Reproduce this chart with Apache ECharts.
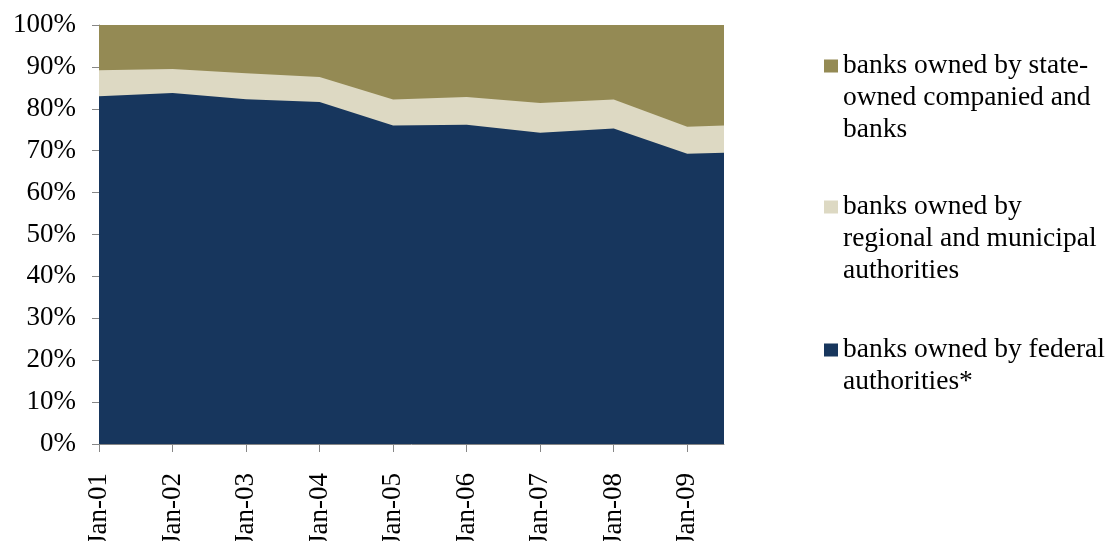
<!DOCTYPE html>
<html>
<head>
<meta charset="utf-8">
<script src="https://cdn.jsdelivr.net/npm/echarts@6/dist/echarts.min.js"></script>
<style>
  html, body { margin: 0; padding: 0; background: #fff; }
  #main { width: 1113px; height: 541px; }
</style>
</head>
<body>
<div id="main"></div>
<script>
// months since Jan-01 for each data point (last point is mid 2009)
const months = [0, 12, 24, 36, 48, 60, 72, 84, 96, 102]
const xTickValues = [0, 12, 24, 36, 48, 60, 72, 84, 96]
const xTickLabels = ['Jan-01', 'Jan-02', 'Jan-03', 'Jan-04', 'Jan-05', 'Jan-06', 'Jan-07', 'Jan-08', 'Jan-09']

// shares in %
const federal = [83.0, 83.8, 82.3, 81.6, 76.0, 76.2, 74.3, 75.3, 69.3, 69.5]
const regional = [6.2, 5.7, 6.2, 6.0, 6.2, 6.6, 7.1, 6.9, 6.4, 6.5]
const stateOwned = [10.8, 10.5, 11.5, 12.4, 17.8, 17.2, 18.6, 17.8, 24.3, 24.0]

const names = {
  federal: 'banks owned by federal authorities*',
  regional: 'banks owned by regional and municipal authorities',
  state: 'banks owned by state-owned companied and banks'
}
const wrapped = {
  [names.state]: 'banks owned by state-\nowned companied and\nbanks',
  [names.regional]: 'banks owned by\nregional and municipal\nauthorities',
  [names.federal]: 'banks owned by federal\nauthorities*'
}
const colors = {
  federal: '#17365D',
  regional: '#DDD9C3',
  state: '#948A54'
}

const font = 'Liberation Serif, Times New Roman, serif'
const lineH = 32

const chartDom = document.getElementById('main')
const myChart = echarts.init(chartDom)

// echarts stacks on the x dimension when both axes are value axes,
// so the stack is summed here and the layers are drawn back to front
const layers = [federal, regional, stateOwned]
const cumulative = layers.map((_, k) =>
  months.map((m, i) => {
    let s = 0
    for (let j = 0; j <= k; j++) s += layers[j][i]
    return [m, +s.toFixed(2)]
  })
)

function makeSeries(name, data, color) {
  return {
    name: name,
    type: 'line',
    data: data,
    showSymbol: false,
    symbol: 'none',
    lineStyle: { width: 0 },
    areaStyle: { color: color, opacity: 1 },
    itemStyle: { color: color },
    emphasis: { disabled: true }
  }
}

// square icon at top of a tall invisible box so it lines up with the first text line
function iconFor(lines) {
  const h = 13 + (lines - 1) * lineH
  return 'path://M0,0H14V13H0Z M0,' + h + 'L0.01,' + h
}

function makeLegend(name, lines, top) {
  return {
    show: true,
    left: 824,
    top: top,
    orient: 'vertical',
    padding: 0,
    itemWidth: 14,
    itemHeight: 13 + (lines - 1) * lineH,
    data: [{ name: name, icon: iconFor(lines) }],
    itemStyle: { borderWidth: 0 },
    formatter: n => wrapped[n],
    textStyle: {
      fontFamily: font,
      fontSize: 27.5,
      lineHeight: lineH,
      color: '#000'
    }
  }
}

let option = {
  animation: false,
  grid: {
    left: 99,
    right: 389,
    top: 25,
    bottom: 97,
    outerBoundsMode: 'none',
    containLabel: false
  },
  legend: [
    makeLegend(names.state, 3, 50),
    makeLegend(names.regional, 3, 191),
    makeLegend(names.federal, 2, 334)
  ],
  xAxis: {
    type: 'value',
    min: 0,
    max: 102,
    interval: 12,
    splitLine: { show: false },
    axisLine: { show: true, lineStyle: { color: '#868686', width: 1 } },
    axisTick: {
      show: true,
      length: 8,
      lineStyle: { color: '#868686' },
      customValues: xTickValues
    },
    axisLabel: {
      rotate: 90,
      margin: 29,
      customValues: xTickValues,
      formatter: v => xTickLabels[xTickValues.indexOf(v)] || '',
      fontFamily: font,
      fontSize: 27,
      color: '#000'
    }
  },
  yAxis: {
    type: 'value',
    min: 0,
    max: 100,
    interval: 10,
    splitLine: { show: false },
    axisLine: { show: true, lineStyle: { color: '#868686', width: 1 } },
    axisTick: { show: true, length: 7, lineStyle: { color: '#868686' } },
    axisLabel: {
      formatter: '{value}%',
      margin: 23,
      fontFamily: font,
      fontSize: 27,
      color: '#000'
    }
  },
  // back to front: top layer first
  series: [
    makeSeries(names.state, cumulative[2], colors.state),
    makeSeries(names.regional, cumulative[1], colors.regional),
    makeSeries(names.federal, cumulative[0], colors.federal)
  ]
}

option && myChart.setOption(option)
</script>
</body>
</html>
